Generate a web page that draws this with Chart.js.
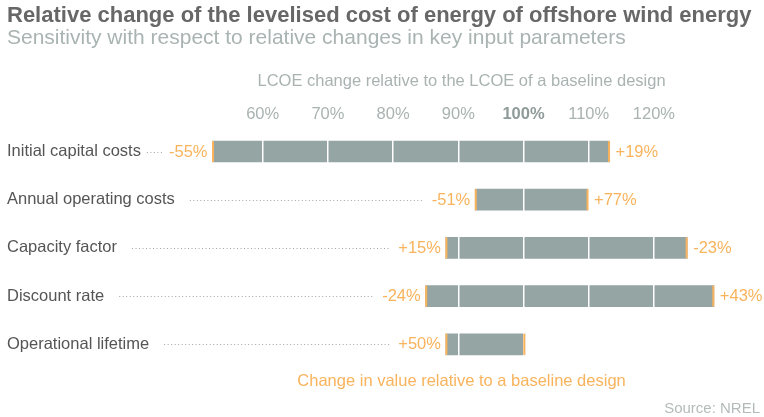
<!DOCTYPE html>
<html><head><meta charset="utf-8">
<script src="https://cdn.jsdelivr.net/npm/chart.js@4.4.1/dist/chart.umd.min.js"></script>
<style>html,body{margin:0;padding:0;background:#fff;}canvas{display:block;}</style>
</head><body>
<canvas id="c" width="764" height="417"></canvas>
<script>
// ---- data ----
const categories = ['Initial capital costs', 'Annual operating costs', 'Capacity factor', 'Discount rate', 'Operational lifetime'];
const lcoeLow  = [52.3, 92.6, 88.1, 85.0, 88.1];
const lcoeHigh = [113.2, 109.9, 125.1, 129.2, 100.2];
const lowLabels  = ['-55%', '-51%', '+15%', '-24%', '+50%'];
const highLabels = ['+19%', '+77%', '-23%', '+43%', ''];
const tickValues = [60, 70, 80, 90, 100, 110, 120];

const titleText = 'Relative change of the levelised cost of energy of offshore wind energy';
const subtitleText = 'Sensitivity with respect to relative changes in key input parameters';
const axisTitleText = 'LCOE change relative to the LCOE of a baseline design';
const footerText = 'Change in value relative to a baseline design';
const sourceText = 'Source: NREL';

// ---- styles ----
const FONT = "'Liberation Sans', Arial, Helvetica, sans-serif";
const ORANGE = '#f9b35c';
const BAR = '#95a5a3';
const LABEL_SIZE = 16.5;

const rangePairs = lcoeLow.map((v, i) => [v, lcoeHigh[i]]);

const annotate = {
  id: 'annotate',
  afterDraw(chart) {
    const ctx = chart.ctx;
    const ys = chart.scales.y;
    const ca = chart.chartArea;
    const meta = chart.getDatasetMeta(0);
    ctx.save();
    ctx.font = LABEL_SIZE + 'px ' + FONT;
    ctx.textBaseline = 'middle';
    meta.data.forEach((bar, i) => {
      const p = bar.getProps(['x', 'base', 'y', 'height'], true);
      const x0 = Math.min(p.x, p.base), x1 = Math.max(p.x, p.base);
      const yTop = p.y - p.height / 2;
      // orange end markers
      ctx.fillStyle = ORANGE;
      ctx.fillRect(x0 - 0.5, yTop, 2, p.height);
      ctx.fillRect(x1 - 1.5, yTop, 2, p.height);
      // value labels
      ctx.textAlign = 'right';
      ctx.fillText(lowLabels[i], x0 - 5, p.y + 0.5);
      if (highLabels[i]) {
        ctx.textAlign = 'left';
        ctx.fillText(highLabels[i], x1 + 6, p.y + 0.5);
      }
      // dotted leader
      const labelEnd = ys.left + ctx.measureText(categories[i]).width;
      const valStart = x0 - 5 - ctx.measureText(lowLabels[i]).width;
      let s = labelEnd + 15, e = valStart - 8;
      if (e - s < 30) { s = labelEnd + 6; e = valStart - 6; }
      ctx.strokeStyle = '#9ea7a6';
      ctx.lineWidth = 1;
      ctx.setLineDash([1, 2.5]);
      ctx.beginPath();
      ctx.moveTo(s, Math.round(p.y) + 0.5);
      ctx.lineTo(e, Math.round(p.y) + 0.5);
      ctx.stroke();
      ctx.setLineDash([]);
    });
    // footer texts
    ctx.font = LABEL_SIZE + 'px ' + FONT;
    ctx.fillStyle = ORANGE;
    ctx.textAlign = 'center';
    ctx.fillText(footerText, (ca.left + ca.right) / 2, ca.bottom + 13);
    ctx.font = '15px ' + FONT;
    ctx.fillStyle = '#b3bbba';
    ctx.textAlign = 'right';
    ctx.fillText(sourceText, chart.width - 4, ca.bottom + 40);
    ctx.restore();
  }
};

new Chart(document.getElementById('c'), {
  type: 'bar',
  data: {
    labels: categories,
    datasets: [{
      data: rangePairs,
      backgroundColor: BAR,
      borderWidth: 0,
      barThickness: 21,
      yAxisID: 'y'
    }]
  },
  options: {
    indexAxis: 'y',
    responsive: false,
    animation: false,
    devicePixelRatio: 1,
    layout: { padding: { left: 7, right: 0, top: 0, bottom: 48.6 } },
    plugins: {
      legend: { display: false },
      tooltip: { enabled: false },
      title: {
        display: true, text: titleText, align: 'start', color: '#676767',
        font: { family: FONT, size: 22, weight: 'bold', lineHeight: 0.8 },
        padding: { top: 7.2, bottom: 0 }
      },
      subtitle: {
        display: true, text: subtitleText, align: 'start', color: '#a9b4b2',
        font: { family: FONT, size: 21, weight: 'normal', lineHeight: 0.9 },
        padding: { top: 4.25, bottom: 0 }
      }
    },
    scales: {
      x: {
        position: 'top',
        min: 50, max: 131,
        afterBuildTicks: axis => { axis.ticks = tickValues.map(v => ({ value: v })); },
        afterFit: s => { s.height = 79.45; },
        grid: { z: 1, color: '#ffffff', lineWidth: 1.5, drawTicks: false },
        border: { display: false },
        ticks: {
          padding: 3.5,
          autoSkip: false,
          maxRotation: 0,
          callback: v => v + '%',
          color: c => (c.tick && c.tick.value === 100) ? '#8f9b99' : '#a9b3b1',
          font: c => ({ family: FONT, size: LABEL_SIZE, weight: (c.tick && c.tick.value === 100) ? 'bold' : 'normal' })
        },
        title: {
          display: true, text: axisTitleText, color: '#a9b3b1',
          font: { family: FONT, size: LABEL_SIZE },
          padding: { top: 23.15, bottom: 0 }
        }
      },
      y: {
        afterFit: s => { s.width = 190.5; },
        grid: { display: false },
        border: { display: false },
        ticks: { crossAlign: 'far', color: '#555555', font: { family: FONT, size: LABEL_SIZE } }
      },
      yRight: {
        type: 'category',
        position: 'right',
        afterFit: s => { s.width = 38.4; },
        grid: { display: false },
        border: { display: false },
        ticks: { display: false }
      }
    }
  },
  plugins: [annotate]
});
</script>
</body></html>
